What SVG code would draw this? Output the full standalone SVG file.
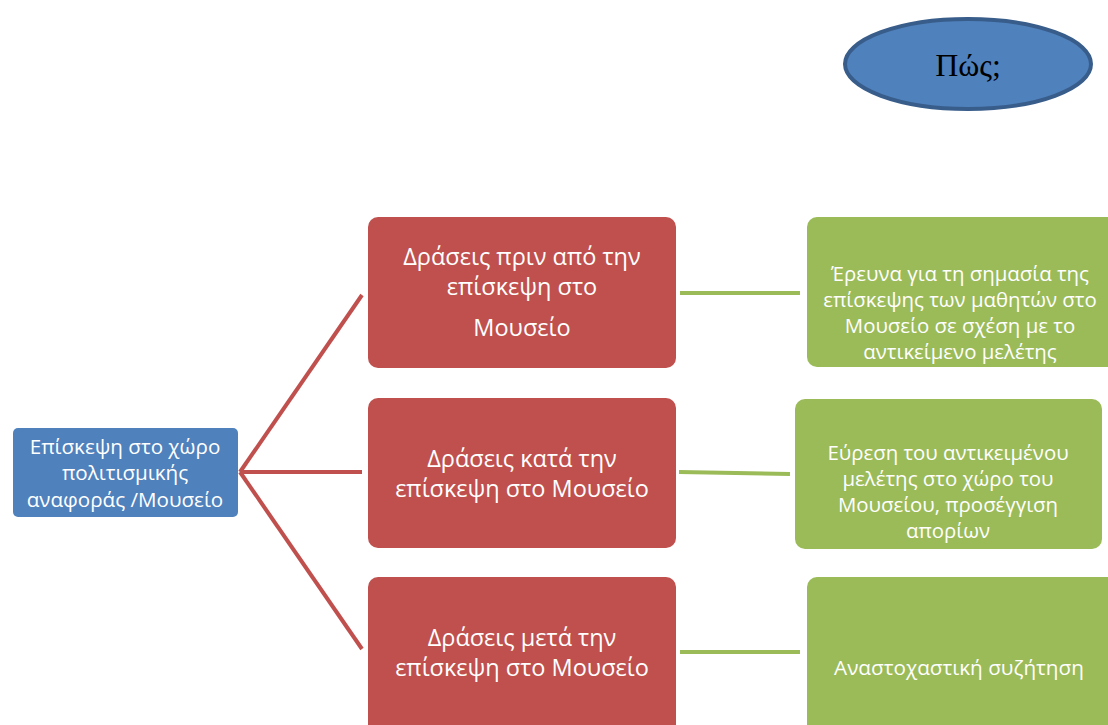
<svg xmlns="http://www.w3.org/2000/svg" width="1108" height="725" viewBox="0 0 1108 725">
<style>
.t{font-family:"Open Sans","Noto Sans",sans-serif;fill:#fff;text-anchor:middle}
.red{fill:#C0504D}
.green{fill:#9BBB59}
.rl{stroke:#C0504D;stroke-width:4;fill:none}
.gl{stroke:#9BBB59;stroke-width:4;fill:none}
</style>
<rect width="1108" height="725" fill="#fff"/>
<g id="connectors">
<line class="rl" x1="240" y1="472" x2="362" y2="295"/>
<line class="rl" x1="240" y1="472" x2="362" y2="472"/>
<line class="rl" x1="240" y1="472" x2="362" y2="649"/>
<line class="gl" x1="680" y1="293" x2="800" y2="293"/>
<line class="gl" x1="679" y1="472" x2="790" y2="474"/>
<line class="gl" x1="680" y1="652" x2="800" y2="652"/>
</g>
<g id="how">
<ellipse cx="968" cy="64" rx="123" ry="45" fill="#4F81BD" stroke="#385D8A" stroke-width="4"/>
<text x="968" y="76" font-family="Liberation Serif,serif" font-size="32" text-anchor="middle" fill="#000">Πώς;</text>
</g>
<g id="root">
<rect x="13" y="428" width="225" height="89" rx="5" fill="#4F81BD"/>
<text class="t" font-size="20.6"><tspan x="125" y="454">Επίσκεψη στο χώρο</tspan><tspan x="125" y="480">πολιτισμικής</tspan><tspan x="125" y="507">αναφοράς /Μουσείο</tspan></text>
</g>
<g id="before">
<rect class="red" x="368" y="217" width="308" height="151" rx="10"/>
<text class="t" font-size="23.5"><tspan x="522" y="265">Δράσεις πριν από την</tspan><tspan x="522" y="295">επίσκεψη στο</tspan><tspan x="522" y="336">Μουσείο</tspan></text>
</g>
<g id="during">
<rect class="red" x="368" y="398" width="308" height="150" rx="10"/>
<text class="t" font-size="23.5"><tspan x="522" y="467">Δράσεις κατά την</tspan><tspan x="522" y="497">επίσκεψη στο Μουσείο</tspan></text>
</g>
<g id="after">
<rect class="red" x="368" y="577" width="308" height="160" rx="10"/>
<text class="t" font-size="23.5"><tspan x="522" y="646">Δράσεις μετά την</tspan><tspan x="522" y="676">επίσκεψη στο Μουσείο</tspan></text>
</g>
<g id="research">
<rect class="green" x="807" y="217" width="310" height="150" rx="10"/>
<text class="t" font-size="20.4"><tspan x="960" y="281">Έρευνα για τη σημασία της</tspan><tspan x="960" y="307">επίσκεψης των μαθητών στο</tspan><tspan x="960" y="333">Μουσείο σε σχέση με το</tspan><tspan x="960" y="359">αντικείμενο μελέτης</tspan></text>
</g>
<g id="find">
<rect class="green" x="795" y="399" width="307" height="150" rx="10"/>
<text class="t" font-size="20.4"><tspan x="948" y="460">Εύρεση του αντικειμένου</tspan><tspan x="948" y="486">μελέτης στο χώρο του</tspan><tspan x="948" y="512">Μουσείου, προσέγγιση</tspan><tspan x="948" y="538">απορίων</tspan></text>
</g>
<g id="reflect">
<rect class="green" x="807" y="577" width="310" height="160" rx="10"/>
<text class="t" font-size="20.7"><tspan x="959" y="675">Αναστοχαστική συζήτηση</tspan></text>
</g>
</svg>
